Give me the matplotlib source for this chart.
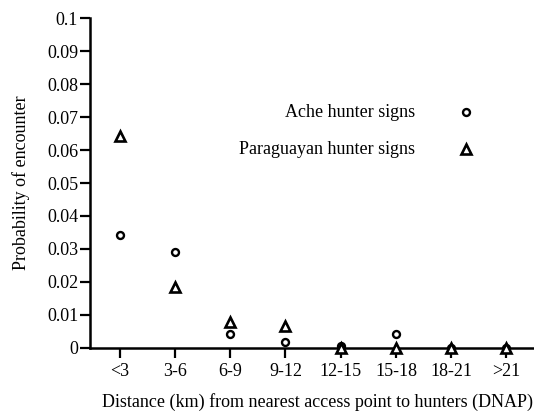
import matplotlib
matplotlib.use("Agg")
import matplotlib.pyplot as plt

# distance classes (km from nearest access point)
categories = ["<3", "3-6", "6-9", "9-12", "12-15", "15-18", "18-21", ">21"]
ache = [0.0343, 0.0290, 0.0041, 0.0019, 0.0007, 0.0041, 0.0, 0.0]
paraguayan = [0.0643, 0.0185, 0.0079, 0.0068, 0.0, 0.0, 0.0, 0.0]
yticks = [0, 0.01, 0.02, 0.03, 0.04, 0.05, 0.06, 0.07, 0.08, 0.09, 0.1]
ytick_labels = ["0", "0.01", "0.02", "0.03", "0.04", "0.05", "0.06",
                "0.07", "0.08", "0.09", "0.1"]

plt.rcParams["font.family"] = ["Liberation Serif", "DejaVu Serif"]

fig = plt.figure(figsize=(5.34, 4.13), dpi=100)
ax = fig.add_axes([0.1685, 0.1574, 0.8315, 0.799])

circ = dict(linestyle="none", marker="o", markersize=5, markerfacecolor="white",
            markeredgecolor="black", markeredgewidth=1.7)
tri = dict(linestyle="none", marker="^", markersize=7, markerfacecolor="white",
           markeredgecolor="black", markeredgewidth=1.9)

x = range(len(categories))
ax.plot(x, ache, clip_on=False, zorder=3, **circ)
ax.plot(x, paraguayan, clip_on=False, zorder=4, **tri)

# legend drawn as text + marker inside the axes
ax.text(5.35, 0.0715, "Ache hunter signs", ha="right", va="center", fontsize=13)
ax.plot([6.26], [0.0715], **circ)
ax.text(5.35, 0.0603, "Paraguayan hunter signs", ha="right", va="center", fontsize=13)
ax.plot([6.26], [0.0603], **tri)

ax.set_xlim(-0.54, 7.5)
ax.set_ylim(0, 0.1)
ax.set_xticks(list(x))
ax.set_xticklabels(categories)
ax.set_yticks(yticks)
ax.set_yticklabels(ytick_labels)
ax.tick_params(axis="both", direction="out", length=7, width=1.6, labelsize=13)
ax.tick_params(axis="y", pad=1.5)
ax.tick_params(axis="x", pad=4)

for side in ["top", "right"]:
    ax.spines[side].set_visible(False)
for side in ["left", "bottom"]:
    ax.spines[side].set_linewidth(1.8)

ax.set_ylabel("Probability of encounter", fontsize=13, labelpad=12)
fig.text(317 / 534, 1 - 402 / 413,
         "Distance (km) from nearest access point to hunters (DNAP)",
         ha="center", va="center", fontsize=13)

fig.savefig("out.png", dpi=100)
